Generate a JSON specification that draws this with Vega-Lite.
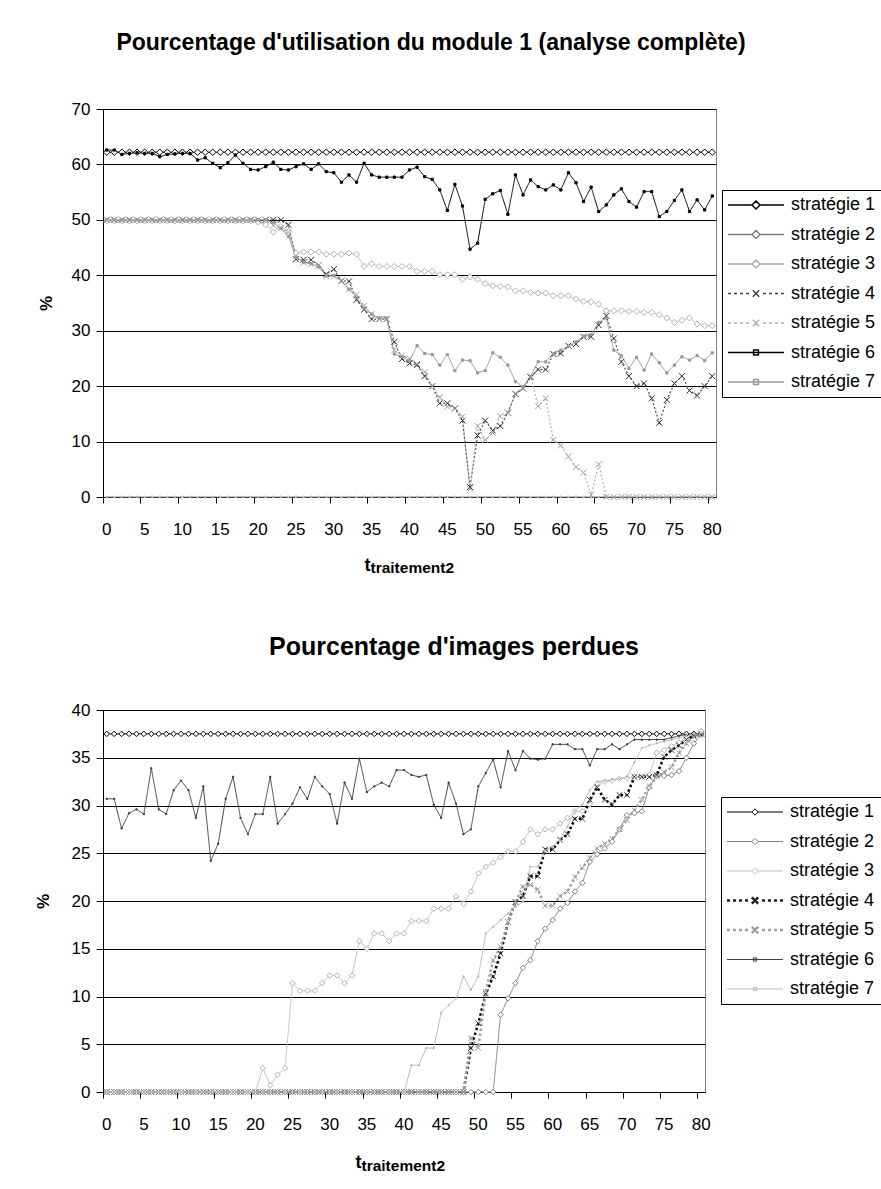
{
  "$schema": "https://vega.github.io/schema/vega-lite/v6.json",
  "padding": {"left": 33, "top": 31, "right": 0, "bottom": 0},
  "background": "white",
  "columns": 1,
  "spacing": 58,
  "config": {
    "font": "Liberation Sans",
    "view": {"stroke": "#808080", "strokeWidth": 1},
    "axis": {"labelFont": "Liberation Sans", "labelColor": "black", "labelFontSize": 17, "domainColor": "black", "tickColor": "black", "titleFont": "Liberation Sans", "titleColor": "black", "titleFontWeight": "bold", "gridColor": "black"},
    "legend": {"labelFont": "Liberation Sans", "labelFontSize": 18, "labelColor": "black", "strokeColor": "black", "fillColor": "white", "padding": 6, "rowPadding": 11.5, "symbolSize": 16, "symbolOffset": 19, "labelOffset": 26, "labelLimit": 300, "orient": "none", "symbolFillColor": "#ffffff"},
    "title": {"font": "Liberation Sans", "fontSize": 23, "fontWeight": "bold", "color": "black", "anchor": "middle"}
  },
  "resolve": {"scale": {"color": "independent", "strokeDash": "independent", "strokeWidth": "independent", "shape": "independent", "fill": "independent", "stroke": "independent", "size": "independent"}},
  "datasets": {
    "noms": [
      {"k": "s1", "nom": "stratégie 1"}, {"k": "s2", "nom": "stratégie 2"}, {"k": "s3", "nom": "stratégie 3"}, {"k": "s4", "nom": "stratégie 4"}, {"k": "s5", "nom": "stratégie 5"}, {"k": "s6", "nom": "stratégie 6"}, {"k": "s7", "nom": "stratégie 7"}
    ],
    "util": [
      {"t":0,"s1":62.2,"s2":0,"s3":49.8,"s4":50,"s5":50,"s6":62.6,"s7":50},
      {"t":1,"s1":62.2,"s2":0,"s3":49.8,"s4":50,"s5":50,"s6":62.6,"s7":50},
      {"t":2,"s1":62.2,"s2":0,"s3":49.8,"s4":50,"s5":50,"s6":61.8,"s7":50},
      {"t":3,"s1":62.2,"s2":0,"s3":49.8,"s4":50,"s5":50,"s6":62.0,"s7":50},
      {"t":4,"s1":62.2,"s2":0,"s3":49.8,"s4":50,"s5":50,"s6":62.1,"s7":50},
      {"t":5,"s1":62.2,"s2":0,"s3":49.8,"s4":50,"s5":50,"s6":62.0,"s7":50},
      {"t":6,"s1":62.2,"s2":0,"s3":49.8,"s4":50,"s5":50,"s6":62.0,"s7":50},
      {"t":7,"s1":62.2,"s2":0,"s3":49.8,"s4":50,"s5":50,"s6":61.4,"s7":50},
      {"t":8,"s1":62.2,"s2":0,"s3":49.8,"s4":50,"s5":50,"s6":61.8,"s7":50},
      {"t":9,"s1":62.2,"s2":0,"s3":49.8,"s4":50,"s5":50,"s6":61.9,"s7":50},
      {"t":10,"s1":62.2,"s2":0,"s3":49.8,"s4":50,"s5":50,"s6":62.0,"s7":50},
      {"t":11,"s1":62.2,"s2":0,"s3":49.8,"s4":50,"s5":50,"s6":62.0,"s7":50},
      {"t":12,"s1":62.2,"s2":0,"s3":49.8,"s4":50,"s5":50,"s6":60.8,"s7":50},
      {"t":13,"s1":62.2,"s2":0,"s3":49.8,"s4":50,"s5":50,"s6":61.2,"s7":50},
      {"t":14,"s1":62.2,"s2":0,"s3":49.8,"s4":50,"s5":50,"s6":60.2,"s7":50},
      {"t":15,"s1":62.2,"s2":0,"s3":49.8,"s4":50,"s5":50,"s6":59.4,"s7":50},
      {"t":16,"s1":62.2,"s2":0,"s3":49.8,"s4":50,"s5":50,"s6":60.3,"s7":50},
      {"t":17,"s1":62.2,"s2":0,"s3":49.8,"s4":50,"s5":50,"s6":61.7,"s7":50},
      {"t":18,"s1":62.2,"s2":0,"s3":49.8,"s4":50,"s5":50,"s6":60.2,"s7":50},
      {"t":19,"s1":62.2,"s2":0,"s3":49.8,"s4":50,"s5":50,"s6":59.1,"s7":50},
      {"t":20,"s1":62.2,"s2":0,"s3":49.6,"s4":50,"s5":50,"s6":59.0,"s7":50},
      {"t":21,"s1":62.2,"s2":0,"s3":49.1,"s4":50,"s5":50,"s6":59.6,"s7":50},
      {"t":22,"s1":62.2,"s2":0,"s3":47.8,"s4":50,"s5":49.0,"s6":60.4,"s7":49.5},
      {"t":23,"s1":62.2,"s2":0,"s3":48.8,"s4":50,"s5":48.5,"s6":59.1,"s7":48.5},
      {"t":24,"s1":62.2,"s2":0,"s3":47.9,"s4":49.1,"s5":47.8,"s6":59.0,"s7":47.0},
      {"t":25,"s1":62.2,"s2":0,"s3":44.0,"s4":42.9,"s5":43.5,"s6":59.6,"s7":43.3},
      {"t":26,"s1":62.2,"s2":0,"s3":44.2,"s4":42.8,"s5":42.3,"s6":60.1,"s7":42.3},
      {"t":27,"s1":62.2,"s2":0,"s3":44.2,"s4":42.8,"s5":42.0,"s6":59.1,"s7":42.1},
      {"t":28,"s1":62.2,"s2":0,"s3":44.2,"s4":41.8,"s5":41.8,"s6":60.1,"s7":41.5},
      {"t":29,"s1":62.2,"s2":0,"s3":43.8,"s4":40.2,"s5":39.8,"s6":58.7,"s7":40.0},
      {"t":30,"s1":62.2,"s2":0,"s3":43.8,"s4":41.1,"s5":39.8,"s6":58.5,"s7":40.0},
      {"t":31,"s1":62.2,"s2":0,"s3":43.8,"s4":39.0,"s5":39.0,"s6":56.8,"s7":39.0},
      {"t":32,"s1":62.2,"s2":0,"s3":44.0,"s4":38.9,"s5":37.5,"s6":58.1,"s7":37.5},
      {"t":33,"s1":62.2,"s2":0,"s3":43.8,"s4":35.6,"s5":36.5,"s6":56.8,"s7":36.0},
      {"t":34,"s1":62.2,"s2":0,"s3":41.6,"s4":33.8,"s5":34.5,"s6":60.2,"s7":34.0},
      {"t":35,"s1":62.2,"s2":0,"s3":42.1,"s4":32.1,"s5":33.0,"s6":58.1,"s7":33.0},
      {"t":36,"s1":62.2,"s2":0,"s3":41.6,"s4":32.1,"s5":32.1,"s6":57.7,"s7":32.3},
      {"t":37,"s1":62.2,"s2":0,"s3":41.6,"s4":32.1,"s5":32.1,"s6":57.7,"s7":32.3},
      {"t":38,"s1":62.2,"s2":0,"s3":41.6,"s4":28.0,"s5":26.5,"s6":57.7,"s7":25.8},
      {"t":39,"s1":62.2,"s2":0,"s3":41.6,"s4":24.9,"s5":25.5,"s6":57.7,"s7":25.3},
      {"t":40,"s1":62.2,"s2":0,"s3":41.6,"s4":24.1,"s5":25.0,"s6":59.0,"s7":24.6},
      {"t":41,"s1":62.2,"s2":0,"s3":40.7,"s4":23.8,"s5":24.0,"s6":59.5,"s7":27.3},
      {"t":42,"s1":62.2,"s2":0,"s3":40.7,"s4":21.8,"s5":22.5,"s6":57.8,"s7":25.9},
      {"t":43,"s1":62.2,"s2":0,"s3":40.7,"s4":20.0,"s5":20.0,"s6":57.3,"s7":25.7},
      {"t":44,"s1":62.2,"s2":0,"s3":40.1,"s4":16.9,"s5":18.0,"s6":55.4,"s7":23.8},
      {"t":45,"s1":62.2,"s2":0,"s3":40.1,"s4":16.9,"s5":16.3,"s6":51.7,"s7":25.7},
      {"t":46,"s1":62.2,"s2":0,"s3":40.1,"s4":16.0,"s5":16.0,"s6":56.4,"s7":22.8},
      {"t":47,"s1":62.2,"s2":0,"s3":39.3,"s4":13.8,"s5":14.5,"s6":52.5,"s7":24.7},
      {"t":48,"s1":62.2,"s2":0,"s3":39.7,"s4":1.8,"s5":1.5,"s6":44.7,"s7":24.6},
      {"t":49,"s1":62.2,"s2":0,"s3":39.3,"s4":11.1,"s5":12.8,"s6":45.8,"s7":22.4},
      {"t":50,"s1":62.2,"s2":0,"s3":38.5,"s4":13.8,"s5":10.3,"s6":53.7,"s7":22.8},
      {"t":51,"s1":62.2,"s2":0,"s3":38.1,"s4":12.0,"s5":11.6,"s6":54.7,"s7":26.0},
      {"t":52,"s1":62.2,"s2":0,"s3":38.0,"s4":12.8,"s5":14.6,"s6":55.3,"s7":25.2},
      {"t":53,"s1":62.2,"s2":0,"s3":37.9,"s4":15.2,"s5":15.2,"s6":51.0,"s7":23.8},
      {"t":54,"s1":62.2,"s2":0,"s3":37.2,"s4":18.6,"s5":18.6,"s6":58.1,"s7":20.8},
      {"t":55,"s1":62.2,"s2":0,"s3":37.2,"s4":19.6,"s5":19.6,"s6":54.5,"s7":19.9},
      {"t":56,"s1":62.2,"s2":0,"s3":36.9,"s4":21.6,"s5":21.8,"s6":57.2,"s7":21.7},
      {"t":57,"s1":62.2,"s2":0,"s3":36.8,"s4":23.0,"s5":16.4,"s6":56.0,"s7":24.4},
      {"t":58,"s1":62.2,"s2":0,"s3":36.8,"s4":23.0,"s5":17.8,"s6":55.4,"s7":24.4},
      {"t":59,"s1":62.2,"s2":0,"s3":36.3,"s4":25.8,"s5":10.3,"s6":56.3,"s7":25.8},
      {"t":60,"s1":62.2,"s2":0,"s3":36.3,"s4":25.9,"s5":9.3,"s6":55.4,"s7":26.5},
      {"t":61,"s1":62.2,"s2":0,"s3":36.3,"s4":27.3,"s5":7.3,"s6":58.5,"s7":27.2},
      {"t":62,"s1":62.2,"s2":0,"s3":35.7,"s4":27.6,"s5":5.4,"s6":56.7,"s7":28.0},
      {"t":63,"s1":62.2,"s2":0,"s3":35.3,"s4":28.9,"s5":4.4,"s6":53.3,"s7":29.0},
      {"t":64,"s1":62.2,"s2":0,"s3":35.2,"s4":28.9,"s5":0.4,"s6":55.9,"s7":29.3},
      {"t":65,"s1":62.2,"s2":0,"s3":34.8,"s4":31.0,"s5":5.9,"s6":51.5,"s7":31.5},
      {"t":66,"s1":62.2,"s2":0,"s3":33.6,"s4":32.7,"s5":0,"s6":52.7,"s7":32.3},
      {"t":67,"s1":62.2,"s2":0,"s3":33.6,"s4":28.6,"s5":0,"s6":54.5,"s7":26.5},
      {"t":68,"s1":62.2,"s2":0,"s3":33.6,"s4":24.4,"s5":0,"s6":55.6,"s7":25.5},
      {"t":69,"s1":62.2,"s2":0,"s3":33.5,"s4":21.8,"s5":0,"s6":53.3,"s7":23.2},
      {"t":70,"s1":62.2,"s2":0,"s3":33.5,"s4":20.0,"s5":0,"s6":52.3,"s7":25.2},
      {"t":71,"s1":62.2,"s2":0,"s3":33.3,"s4":20.5,"s5":0,"s6":55.1,"s7":22.9},
      {"t":72,"s1":62.2,"s2":0,"s3":33.3,"s4":17.8,"s5":0,"s6":55.1,"s7":25.8},
      {"t":73,"s1":62.2,"s2":0,"s3":32.9,"s4":13.4,"s5":0,"s6":50.6,"s7":24.2},
      {"t":74,"s1":62.2,"s2":0,"s3":32.3,"s4":17.5,"s5":0,"s6":51.5,"s7":22.4},
      {"t":75,"s1":62.2,"s2":0,"s3":31.5,"s4":20.5,"s5":0,"s6":53.5,"s7":23.8},
      {"t":76,"s1":62.2,"s2":0,"s3":31.9,"s4":21.8,"s5":0,"s6":55.4,"s7":25.3},
      {"t":77,"s1":62.2,"s2":0,"s3":32.3,"s4":19.2,"s5":0,"s6":51.5,"s7":24.7},
      {"t":78,"s1":62.2,"s2":0,"s3":31.2,"s4":18.3,"s5":0,"s6":53.6,"s7":25.5},
      {"t":79,"s1":62.2,"s2":0,"s3":30.9,"s4":20.0,"s5":0,"s6":51.8,"s7":24.6},
      {"t":80,"s1":62.2,"s2":0,"s3":30.9,"s4":21.8,"s5":0,"s6":54.3,"s7":26.0}
    ],
    "perdues": [
      {"t":0,"s1":37.5,"s2":0,"s3":0,"s4":0,"s5":0,"s6":30.7,"s7":0},
      {"t":1,"s1":37.5,"s2":0,"s3":0,"s4":0,"s5":0,"s6":30.7,"s7":0},
      {"t":2,"s1":37.5,"s2":0,"s3":0,"s4":0,"s5":0,"s6":27.6,"s7":0},
      {"t":3,"s1":37.5,"s2":0,"s3":0,"s4":0,"s5":0,"s6":29.2,"s7":0},
      {"t":4,"s1":37.5,"s2":0,"s3":0,"s4":0,"s5":0,"s6":29.6,"s7":0},
      {"t":5,"s1":37.5,"s2":0,"s3":0,"s4":0,"s5":0,"s6":29.1,"s7":0},
      {"t":6,"s1":37.5,"s2":0,"s3":0,"s4":0,"s5":0,"s6":33.9,"s7":0},
      {"t":7,"s1":37.5,"s2":0,"s3":0,"s4":0,"s5":0,"s6":29.6,"s7":0},
      {"t":8,"s1":37.5,"s2":0,"s3":0,"s4":0,"s5":0,"s6":29.1,"s7":0},
      {"t":9,"s1":37.5,"s2":0,"s3":0,"s4":0,"s5":0,"s6":31.6,"s7":0},
      {"t":10,"s1":37.5,"s2":0,"s3":0,"s4":0,"s5":0,"s6":32.6,"s7":0},
      {"t":11,"s1":37.5,"s2":0,"s3":0,"s4":0,"s5":0,"s6":31.6,"s7":0},
      {"t":12,"s1":37.5,"s2":0,"s3":0,"s4":0,"s5":0,"s6":28.7,"s7":0},
      {"t":13,"s1":37.5,"s2":0,"s3":0,"s4":0,"s5":0,"s6":32.0,"s7":0},
      {"t":14,"s1":37.5,"s2":0,"s3":0,"s4":0,"s5":0,"s6":24.2,"s7":0},
      {"t":15,"s1":37.5,"s2":0,"s3":0,"s4":0,"s5":0,"s6":26.0,"s7":0},
      {"t":16,"s1":37.5,"s2":0,"s3":0,"s4":0,"s5":0,"s6":30.7,"s7":0},
      {"t":17,"s1":37.5,"s2":0,"s3":0,"s4":0,"s5":0,"s6":33.0,"s7":0},
      {"t":18,"s1":37.5,"s2":0,"s3":0,"s4":0,"s5":0,"s6":28.7,"s7":0},
      {"t":19,"s1":37.5,"s2":0,"s3":0,"s4":0,"s5":0,"s6":27.0,"s7":0},
      {"t":20,"s1":37.5,"s2":0,"s3":0,"s4":0,"s5":0,"s6":29.1,"s7":0},
      {"t":21,"s1":37.5,"s2":0,"s3":2.5,"s4":0,"s5":0,"s6":29.1,"s7":0},
      {"t":22,"s1":37.5,"s2":0,"s3":0.7,"s4":0,"s5":0,"s6":33.0,"s7":0},
      {"t":23,"s1":37.5,"s2":0,"s3":1.8,"s4":0,"s5":0,"s6":28.1,"s7":0},
      {"t":24,"s1":37.5,"s2":0,"s3":2.5,"s4":0,"s5":0,"s6":29.1,"s7":0},
      {"t":25,"s1":37.5,"s2":0,"s3":11.4,"s4":0,"s5":0,"s6":30.2,"s7":0},
      {"t":26,"s1":37.5,"s2":0,"s3":10.6,"s4":0,"s5":0,"s6":31.9,"s7":0},
      {"t":27,"s1":37.5,"s2":0,"s3":10.6,"s4":0,"s5":0,"s6":30.7,"s7":0},
      {"t":28,"s1":37.5,"s2":0,"s3":10.6,"s4":0,"s5":0,"s6":33.0,"s7":0},
      {"t":29,"s1":37.5,"s2":0,"s3":11.4,"s4":0,"s5":0,"s6":32.0,"s7":0},
      {"t":30,"s1":37.5,"s2":0,"s3":12.2,"s4":0,"s5":0,"s6":31.2,"s7":0},
      {"t":31,"s1":37.5,"s2":0,"s3":12.2,"s4":0,"s5":0,"s6":28.1,"s7":0},
      {"t":32,"s1":37.5,"s2":0,"s3":11.4,"s4":0,"s5":0,"s6":32.4,"s7":0},
      {"t":33,"s1":37.5,"s2":0,"s3":12.2,"s4":0,"s5":0,"s6":30.7,"s7":0},
      {"t":34,"s1":37.5,"s2":0,"s3":15.8,"s4":0,"s5":0,"s6":34.9,"s7":0},
      {"t":35,"s1":37.5,"s2":0,"s3":15.0,"s4":0,"s5":0,"s6":31.4,"s7":0},
      {"t":36,"s1":37.5,"s2":0,"s3":16.6,"s4":0,"s5":0,"s6":32.0,"s7":0},
      {"t":37,"s1":37.5,"s2":0,"s3":16.6,"s4":0,"s5":0,"s6":32.4,"s7":0},
      {"t":38,"s1":37.5,"s2":0,"s3":15.8,"s4":0,"s5":0,"s6":32.0,"s7":0},
      {"t":39,"s1":37.5,"s2":0,"s3":16.6,"s4":0,"s5":0,"s6":33.7,"s7":0},
      {"t":40,"s1":37.5,"s2":0,"s3":16.6,"s4":0,"s5":0,"s6":33.7,"s7":0},
      {"t":41,"s1":37.5,"s2":0,"s3":17.9,"s4":0,"s5":0,"s6":33.2,"s7":2.8},
      {"t":42,"s1":37.5,"s2":0,"s3":17.9,"s4":0,"s5":0,"s6":33.0,"s7":2.8},
      {"t":43,"s1":37.5,"s2":0,"s3":17.9,"s4":0,"s5":0,"s6":33.2,"s7":4.6},
      {"t":44,"s1":37.5,"s2":0,"s3":19.2,"s4":0,"s5":0,"s6":30.1,"s7":4.6},
      {"t":45,"s1":37.5,"s2":0,"s3":19.2,"s4":0,"s5":0,"s6":28.7,"s7":8.3},
      {"t":46,"s1":37.5,"s2":0,"s3":19.2,"s4":0,"s5":0,"s6":32.4,"s7":9.1},
      {"t":47,"s1":37.5,"s2":0,"s3":20.5,"s4":0,"s5":0,"s6":30.2,"s7":9.8},
      {"t":48,"s1":37.5,"s2":0,"s3":19.7,"s4":0,"s5":0,"s6":27.0,"s7":12.1},
      {"t":49,"s1":37.5,"s2":0,"s3":21.0,"s4":4.6,"s5":5.6,"s6":27.5,"s7":10.7},
      {"t":50,"s1":37.5,"s2":0,"s3":22.9,"s4":7.2,"s5":4.6,"s6":32.0,"s7":12.1},
      {"t":51,"s1":37.5,"s2":0,"s3":23.6,"s4":10.3,"s5":10.5,"s6":33.4,"s7":16.6},
      {"t":52,"s1":37.5,"s2":0,"s3":24.0,"s4":12.1,"s5":13.8,"s6":34.8,"s7":17.3},
      {"t":53,"s1":37.5,"s2":8.1,"s3":24.6,"s4":14.5,"s5":15.2,"s6":31.9,"s7":18.0},
      {"t":54,"s1":37.5,"s2":9.8,"s3":25.2,"s4":17.8,"s5":17.8,"s6":35.7,"s7":18.7},
      {"t":55,"s1":37.5,"s2":11.4,"s3":25.2,"s4":19.9,"s5":19.9,"s6":33.7,"s7":19.4},
      {"t":56,"s1":37.5,"s2":13.0,"s3":26.2,"s4":20.5,"s5":21.5,"s6":35.7,"s7":19.9},
      {"t":57,"s1":37.5,"s2":13.8,"s3":27.5,"s4":22.6,"s5":21.7,"s6":34.9,"s7":23.6},
      {"t":58,"s1":37.5,"s2":15.8,"s3":27.0,"s4":22.6,"s5":21.2,"s6":34.8,"s7":23.6},
      {"t":59,"s1":37.5,"s2":17.1,"s3":27.5,"s4":25.4,"s5":19.5,"s6":34.9,"s7":25.3},
      {"t":60,"s1":37.5,"s2":18.0,"s3":27.5,"s4":25.4,"s5":19.5,"s6":36.4,"s7":25.7},
      {"t":61,"s1":37.5,"s2":19.2,"s3":28.1,"s4":26.4,"s5":20.5,"s6":36.4,"s7":26.4},
      {"t":62,"s1":37.5,"s2":19.8,"s3":28.7,"s4":27.0,"s5":21.0,"s6":36.4,"s7":27.8},
      {"t":63,"s1":37.5,"s2":21.0,"s3":29.4,"s4":28.6,"s5":22.5,"s6":35.9,"s7":29.4},
      {"t":64,"s1":37.5,"s2":21.9,"s3":29.4,"s4":28.6,"s5":23.5,"s6":35.9,"s7":30.1},
      {"t":65,"s1":37.5,"s2":24.1,"s3":30.1,"s4":30.6,"s5":24.5,"s6":34.2,"s7":31.6},
      {"t":66,"s1":37.5,"s2":24.9,"s3":32.3,"s4":31.9,"s5":25.5,"s6":35.9,"s7":32.5},
      {"t":67,"s1":37.5,"s2":25.5,"s3":32.5,"s4":30.6,"s5":26.0,"s6":35.9,"s7":32.6},
      {"t":68,"s1":37.5,"s2":26.2,"s3":32.6,"s4":30.1,"s5":26.5,"s6":36.4,"s7":32.7},
      {"t":69,"s1":37.5,"s2":27.5,"s3":32.8,"s4":31.1,"s5":27.5,"s6":35.9,"s7":32.8},
      {"t":70,"s1":37.5,"s2":29.0,"s3":32.9,"s4":31.1,"s5":28.5,"s6":36.4,"s7":33.0},
      {"t":71,"s1":37.5,"s2":29.2,"s3":33.0,"s4":33.0,"s5":29.5,"s6":36.9,"s7":34.5},
      {"t":72,"s1":37.5,"s2":29.4,"s3":33.0,"s4":33.0,"s5":30.6,"s6":36.9,"s7":36.0},
      {"t":73,"s1":37.5,"s2":31.9,"s3":33.2,"s4":33.0,"s5":32.0,"s6":36.9,"s7":36.3},
      {"t":74,"s1":37.5,"s2":33.1,"s3":35.5,"s4":33.2,"s5":33.0,"s6":36.9,"s7":36.5},
      {"t":75,"s1":37.5,"s2":33.1,"s3":35.8,"s4":35.1,"s5":33.5,"s6":36.9,"s7":36.7},
      {"t":76,"s1":37.5,"s2":33.2,"s3":36.2,"s4":35.8,"s5":34.0,"s6":37.1,"s7":36.9},
      {"t":77,"s1":37.5,"s2":33.6,"s3":36.6,"s4":36.3,"s5":35.5,"s6":37.3,"s7":37.1},
      {"t":78,"s1":37.5,"s2":35.0,"s3":37.0,"s4":36.9,"s5":36.5,"s6":37.4,"s7":37.3},
      {"t":79,"s1":37.5,"s2":36.5,"s3":37.4,"s4":37.3,"s5":37.2,"s6":37.4,"s7":37.5},
      {"t":80,"s1":37.5,"s2":37.4,"s3":37.8,"s4":37.5,"s5":37.5,"s6":37.4,"s7":37.6}
    ]
  },
  "concat": [
    {
      "width": 613,
      "height": 388,
      "title": {"text": "Pourcentage d'utilisation du module 1 (analyse complète)", "dx": 21.5, "offset": 45.5},
      "data": {"name": "util"},
      "transform": [
        {"fold": ["s1", "s2", "s3", "s4", "s5", "s6", "s7"], "as": ["k", "v"]},
        {"lookup": "k", "from": {"data": {"name": "noms"}, "key": "k", "fields": ["nom"]}}
      ],
      "encoding": {
        "y": {"field": "v", "type": "quantitative", "scale": {"domain": [0, 70], "nice": false},
          "axis": {"title": "%", "values": [0, 10, 20, 30, 40, 50, 60, 70], "grid": true, "tickSize": 7, "labelPadding": 6, "titlePadding": 16, "titleFontSize": 17}}
      },
      "resolve": {"axis": {"x": "independent"}, "scale": {"shape": "independent", "stroke": "independent", "strokeWidth": "independent"}},
      "layer": [
        {
          "mark": {"type": "line", "interpolate": "linear"},
          "encoding": {
            "x": {"field": "t", "type": "ordinal", "bandPosition": 0.5, "scale": {"type": "band", "paddingInner": 0, "paddingOuter": 0},
              "axis": {"values": [0, 5, 10, 15, 20, 25, 30, 35, 40, 45, 50, 55, 60, 65, 70, 75, 80], "bandPosition": 0, "labelAngle": 0, "tickSize": 6, "labelPadding": 18, "grid": false, "title": "t", "titleFontSize": 18, "titleX": 261, "titleY": 73, "titleAlign": "left", "titleBaseline": "alphabetic"}},
            "color": {"field": "nom", "type": "nominal", "scale": {"range": ["#000000", "#808080", "#c0c0c0", "#505050", "#b0b0b0", "#000000", "#999999"]}, "legend": null},
            "strokeDash": {"field": "nom", "type": "nominal", "scale": {"range": [[1, 0], [1, 0], [1, 0], [2, 2], [2, 2], [1, 0], [1, 0]]}, "legend": null},
            "strokeWidth": {"field": "nom", "type": "nominal", "scale": {"type": "ordinal", "range": [1, 1, 1, 1.2, 1.2, 1, 1]}, "legend": null}
          }
        },
        {
          "mark": {"type": "point", "strokeWidth": 1, "opacity": 1},
          "encoding": {
            "x": {"field": "t", "type": "ordinal", "bandPosition": 0.5, "scale": {"type": "band", "paddingInner": 0, "paddingOuter": 0},
              "axis": {"orient": "top", "labels": false, "ticks": false, "domain": false, "grid": false, "title": "traitement2", "titleFontSize": 15.5, "titleX": 267, "titleY": 463, "titleAlign": "left", "titleBaseline": "alphabetic"}},
            "shape": {"field": "nom", "type": "nominal", "scale": {"range": ["diamond", "diamond", "diamond", "M-1,-1L1,1M-1,1L1,-1", "M-1,-1L1,1M-1,1L1,-1", "square", "square"]}, "legend": null},
            "size": {"field": "nom", "type": "nominal", "scale": {"type": "ordinal", "range": [42, 6, 36, 36, 36, 5, 5]}, "legend": null},
            "fill": {"field": "nom", "type": "nominal", "scale": {"range": ["#ffffff", "#ffffff", "#ffffff", "transparent", "transparent", "#000000", "#999999"]}, "legend": null},
            "stroke": {"field": "nom", "type": "nominal", "scale": {"range": ["#000000", "#a0a0a0", "#b0b0b0", "#303030", "#a0a0a0", "#000000", "#999999"]}, "legend": null}
          }
        },
        {
          "transform": [{"filter": "datum.t < 0"}],
          "mark": {"type": "point", "size": 16, "opacity": 1, "filled": false},
          "encoding": {
            "shape": {"field": "nom", "type": "nominal",
              "scale": {"domain": ["stratégie 1", "stratégie 2", "stratégie 3", "stratégie 4", "stratégie 5", "stratégie 6", "stratégie 7"],
                "range": ["M-14,0H-2M2,0H14M0,-2L2,0L0,2L-2,0Z", "M-14,0H-2M2,0H14M0,-2L2,0L0,2L-2,0Z", "M-14,0H-2M2,0H14M0,-2L2,0L0,2L-2,0Z", "M-14,0H-12.5M-11,0H-9.5M-8,0H-6.5M-5,0H-3.5M-1.6,-1.6L1.6,1.6M-1.6,1.6L1.6,-1.6M3.5,0H5M6.5,0H8M9.5,0H11M12.5,0H14", "M-14,0H-12.5M-11,0H-9.5M-8,0H-6.5M-5,0H-3.5M-1.6,-1.6L1.6,1.6M-1.6,1.6L1.6,-1.6M3.5,0H5M6.5,0H8M9.5,0H11M12.5,0H14", "M-14,0H14M-1.2,-1.2H1.2V1.2H-1.2Z", "M-14,0H14M-1.2,-1.2H1.2V1.2H-1.2Z"]},
              "legend": {"title": null, "legendX": 619, "legendY": 81}},
            "stroke": {"field": "nom", "type": "nominal",
              "scale": {"domain": ["stratégie 1", "stratégie 2", "stratégie 3", "stratégie 4", "stratégie 5", "stratégie 6", "stratégie 7"],
                "range": ["#000000", "#808080", "#b0b0b0", "#404040", "#b0b0b0", "#000000", "#999999"]},
              "legend": {"title": null, "legendX": 619, "legendY": 81}}
          }
        }
      ]
    },
    {
      "width": 602,
      "height": 382,
      "title": {"text": "Pourcentage d'images perdues", "dx": 50, "offset": 41.5, "fontSize": 25},
      "data": {"name": "perdues"},
      "transform": [
        {"fold": ["s1", "s2", "s3", "s4", "s5", "s6", "s7"], "as": ["k", "v"]},
        {"lookup": "k", "from": {"data": {"name": "noms"}, "key": "k", "fields": ["nom"]}}
      ],
      "encoding": {
        "y": {"field": "v", "type": "quantitative", "scale": {"domain": [0, 40], "nice": false},
          "axis": {"title": "%", "values": [0, 5, 10, 15, 20, 25, 30, 35, 40], "grid": true, "tickSize": 7, "labelPadding": 6, "titlePadding": 19, "titleFontSize": 17}}
      },
      "resolve": {"axis": {"x": "independent"}, "scale": {"shape": "independent", "stroke": "independent", "strokeWidth": "independent"}},
      "layer": [
        {
          "mark": {"type": "line", "interpolate": "linear"},
          "encoding": {
            "x": {"field": "t", "type": "ordinal", "bandPosition": 0.5, "scale": {"type": "band", "paddingInner": 0, "paddingOuter": 0},
              "axis": {"values": [0, 5, 10, 15, 20, 25, 30, 35, 40, 45, 50, 55, 60, 65, 70, 75, 80], "bandPosition": 0, "labelAngle": 0, "tickSize": 6, "labelPadding": 18, "grid": false, "title": "t", "titleFontSize": 18, "titleX": 252, "titleY": 75, "titleAlign": "left", "titleBaseline": "alphabetic"}},
            "color": {"field": "nom", "type": "nominal", "scale": {"range": ["#000000", "#808080", "#c0c0c0", "#000000", "#a0a0a0", "#404040", "#b8b8b8"]}, "legend": null},
            "strokeDash": {"field": "nom", "type": "nominal", "scale": {"range": [[1, 0], [1, 0], [1, 0], [2.5, 2.5], [2.5, 2.5], [1, 0], [1, 0]]}, "legend": null},
            "strokeWidth": {"field": "nom", "type": "nominal", "scale": {"type": "ordinal", "range": [1, 1, 1, 2.5, 2.5, 1, 1]}, "legend": null}
          }
        },
        {
          "mark": {"type": "point", "strokeWidth": 1, "opacity": 1},
          "encoding": {
            "x": {"field": "t", "type": "ordinal", "bandPosition": 0.5, "scale": {"type": "band", "paddingInner": 0, "paddingOuter": 0},
              "axis": {"orient": "top", "labels": false, "ticks": false, "domain": false, "grid": false, "title": "traitement2", "titleFontSize": 15.5, "titleX": 258, "titleY": 460, "titleAlign": "left", "titleBaseline": "alphabetic"}},
            "shape": {"field": "nom", "type": "nominal", "scale": {"range": ["diamond", "diamond", "diamond", "M-1,-1L1,1M-1,1L1,-1", "M-1,-1L1,1M-1,1L1,-1", "square", "square"]}, "legend": null},
            "size": {"field": "nom", "type": "nominal", "scale": {"type": "ordinal", "range": [30, 30, 30, 30, 30, 1.5, 1.5]}, "legend": null},
            "fill": {"field": "nom", "type": "nominal", "scale": {"range": ["#ffffff", "#ffffff", "#ffffff", "transparent", "transparent", "#404040", "#b8b8b8"]}, "legend": null},
            "stroke": {"field": "nom", "type": "nominal", "scale": {"range": ["#000000", "#808080", "#b0b0b0", "#303030", "#a0a0a0", "#404040", "#b8b8b8"]}, "legend": null}
          }
        },
        {
          "transform": [{"filter": "datum.t < 0"}],
          "mark": {"type": "point", "size": 16, "opacity": 1, "filled": false},
          "encoding": {
            "shape": {"field": "nom", "type": "nominal",
              "scale": {"domain": ["stratégie 1", "stratégie 2", "stratégie 3", "stratégie 4", "stratégie 5", "stratégie 6", "stratégie 7"],
                "range": ["M-14,0H-1.6M1.6,0H14M0,-1.6L1.6,0L0,1.6L-1.6,0Z", "M-14,0H-1.6M1.6,0H14M0,-1.6L1.6,0L0,1.6L-1.6,0Z", "M-14,0H-1.6M1.6,0H14M0,-1.6L1.6,0L0,1.6L-1.6,0Z", "M-14,0H-12.5M-11,0H-9.5M-8,0H-6.5M-5,0H-3.5M-1.6,-1.6L1.6,1.6M-1.6,1.6L1.6,-1.6M3.5,0H5M6.5,0H8M9.5,0H11M12.5,0H14", "M-14,0H-12.5M-11,0H-9.5M-8,0H-6.5M-5,0H-3.5M-1.6,-1.6L1.6,1.6M-1.6,1.6L1.6,-1.6M3.5,0H5M6.5,0H8M9.5,0H11M12.5,0H14", "M-14,0H14M-0.8,-0.8H0.8V0.8H-0.8Z", "M-14,0H14M-0.8,-0.8H0.8V0.8H-0.8Z"]},
              "legend": {"title": null, "legendX": 618, "legendY": 87}},
            "stroke": {"field": "nom", "type": "nominal",
              "scale": {"domain": ["stratégie 1", "stratégie 2", "stratégie 3", "stratégie 4", "stratégie 5", "stratégie 6", "stratégie 7"],
                "range": ["#000000", "#808080", "#c0c0c0", "#202020", "#a0a0a0", "#404040", "#b8b8b8"]},
              "legend": {"title": null, "legendX": 618, "legendY": 87}},
            "strokeWidth": {"field": "nom", "type": "nominal",
              "scale": {"type": "ordinal", "domain": ["stratégie 1", "stratégie 2", "stratégie 3", "stratégie 4", "stratégie 5", "stratégie 6", "stratégie 7"],
                "range": [1, 1, 1, 2.5, 2.5, 1, 1]},
              "legend": {"title": null, "legendX": 618, "legendY": 87}}
          }
        }
      ]
    }
  ]
}
